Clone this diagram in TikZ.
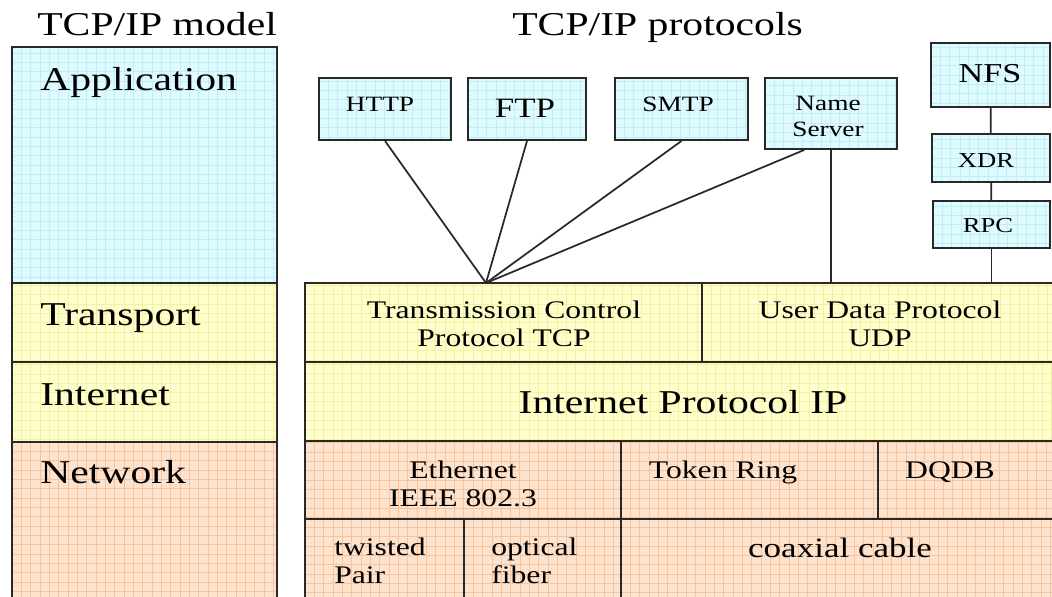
\documentclass[tikz,border=0pt]{standalone}
\usepackage{fontspec}
\setmainfont{Liberation Serif}[FakeStretch=1.25]
\usetikzlibrary{fit, calc}

\definecolor{appfill}{RGB}{222,251,255}
\definecolor{appgrid}{RGB}{196,236,246}
\definecolor{tpfill}{RGB}{255,255,204}
\definecolor{tpgrid}{RGB}{244,240,166}
\definecolor{netfill}{RGB}{253,227,206}
\definecolor{netgrid}{RGB}{246,196,158}
\definecolor{edge}{RGB}{40,40,40}

\tikzset{
  cell/.style={draw=edge, line width=1.4pt, inner sep=0pt, fit={#1}},
  gridded/.style 2 args={fill=#1, path picture={
      \draw[#2, line width=0.5pt, step=7pt]
        (path picture bounding box.south west) grid (path picture bounding box.north east);}},
  app/.style={gridded={appfill}{appgrid}},
  tp/.style={gridded={tpfill}{tpgrid}},
  net/.style={gridded={netfill}{netgrid}},
  wire/.style={draw=edge, line width=1.3pt},
  big/.style={font=\fontsize{25}{28}\selectfont, inner sep=0pt},
  mid/.style={font=\fontsize{19}{21}\selectfont, inner sep=0pt, align=center},
  small/.style={font=\fontsize{16.4}{19.5}\selectfont, inner sep=0pt, align=center},
}

\begin{document}
\begin{tikzpicture}[x=0.75pt,y=-0.75pt]
  \useasboundingbox (0,0) rectangle (1052,596);
  \clip (0,0) rectangle (1052,596);
  \fill[white] (0,0) rectangle (1052,596);

  % titles
  \node[big, anchor=base west] (modeltitle) at (37,35) {TCP/IP model};
  \node[big, anchor=base west] (prototitle) at (512,35) {TCP/IP protocols};

  % model layers
  \node[cell={(12,47) (277,283)}, app] (application) {};
  \node[cell={(12,283) (277,362)}, tp] (transport) {};
  \node[cell={(12,362) (277,442)}, tp] (internet) {};
  \node[cell={(12,442) (277,610)}, net] (network) {};
  \node[big, anchor=base west] (application-t) at (40,90) {Application};
  \node[big, anchor=base west] (transport-t) at (40,325) {Transport};
  \node[big, anchor=base west] (internet-t) at (40,405) {Internet};
  \node[big, anchor=base west] (network-t) at (40,483) {Network};

  % protocol stack
  \node[cell={(305,283) (702,362)}, tp] (tcp) {};
  \node[cell={(702,283) (1070,362)}, tp] (udp) {};
  \node[cell={(305,362) (1070,441)}, tp] (ip) {};
  \node[cell={(305,441) (621,519)}, net] (ethernet) {};
  \node[cell={(621,441) (878,519)}, net] (tokenring) {};
  \node[cell={(878,441) (1070,519)}, net] (dqdb) {};
  \node[cell={(305,519) (464,610)}, net] (twisted) {};
  \node[cell={(464,519) (621,610)}, net] (optical) {};
  \node[cell={(621,519) (1070,610)}, net] (coaxial) {};

  % two-line labels sit on their last baseline
  \node[mid, anchor=base] (tcp-t) at (504,346) {Transmission Control\\Protocol TCP};
  \node[mid, anchor=base] (udp-t) at (880,346) {User Data Protocol\\UDP};
  \node[big, anchor=base] (ip-t) at (683,413) {Internet Protocol IP};
  \node[mid, anchor=base] (ethernet-t) at (463,506) {Ethernet\\IEEE 802.3};
  \node[mid, anchor=base] (tokenring-t) at (723,478) {Token Ring};
  \node[mid, anchor=base] (dqdb-t) at (950,478) {DQDB};
  \node[mid, anchor=base west, align=left] (twisted-t) at (334,583) {twisted\\Pair};
  \node[mid, anchor=base west, align=left] (optical-t) at (491,583) {optical\\fiber};
  \node[mid, anchor=base, font=\fontsize{21}{24}\selectfont] (coaxial-t) at (840,557) {coaxial cable};

  % applications
  \node[cell={(319,78) (451,140)}, app] (http) {};
  \node[cell={(468,78) (586,140)}, app] (ftp) {};
  \node[cell={(615,78) (748,140)}, app] (smtp) {};
  \node[cell={(765,78) (897,149)}, app] (name) {};
  \node[cell={(931,43) (1050,107)}, app] (nfs) {};
  \node[cell={(932,134) (1050,182)}, app] (xdr) {};
  \node[cell={(933,201) (1050,248)}, app] (rpc) {};

  \node[small, anchor=base] (http-t) at (380,111) {HTTP};
  \node[small, anchor=base, font=\fontsize{21}{24}\selectfont] (ftp-t) at (525,117) {FTP};
  \node[small, anchor=base] (smtp-t) at (678,111) {SMTP};
  \node[small, anchor=base] (name-t) at (828,136) {Name\\Server};
  \node[small, anchor=base, font=\fontsize{20.5}{24}\selectfont] (nfs-t) at (990,82) {NFS};
  \node[small, anchor=base, font=\fontsize{16}{19}\selectfont] (xdr-t) at (986,167) {XDR};
  \node[small, anchor=base, font=\fontsize{16}{19}\selectfont] (rpc-t) at (988,232) {RPC};

  % connectors
  \coordinate (hub) at (486,283);
  \draw[wire] (http.south) -- (hub);
  \draw[wire] (ftp.south) -- (hub);
  \draw[wire] (smtp.south) -- (hub);
  \draw[wire] ($(name.south west)!0.3!(name.south east)$) -- (hub);
  \draw[wire] (name.south) -- (name.south |- udp.north);
  \draw[wire] (nfs) -- (xdr);
  \draw[wire] (xdr) -- (rpc);
  \draw[wire] (rpc.south) -- (rpc.south |- udp.north);
\end{tikzpicture}
\end{document}
